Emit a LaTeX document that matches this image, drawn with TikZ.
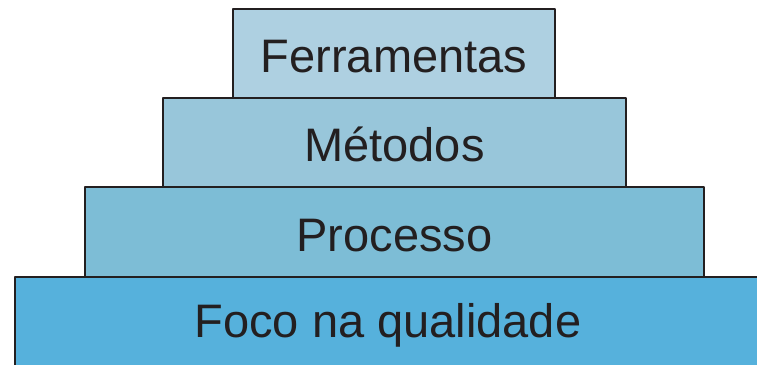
\documentclass[tikz,border=0pt]{standalone}
\usepackage{fontspec}
\setmainfont{Liberation Sans}
\definecolor{tierA}{RGB}{174,208,225}
\definecolor{tierB}{RGB}{152,198,218}
\definecolor{tierC}{RGB}{125,189,214}
\definecolor{tierD}{RGB}{86,177,220}
\definecolor{ink}{RGB}{35,31,32}
\begin{document}
\begin{tikzpicture}[x=1pt, y=-1pt, line join=round, font=\fontsize{47}{50}\selectfont,
	tier/.style={draw=ink, line width=1.3pt, inner sep=0pt, text=ink, text height=44pt, text depth=6pt}]
	\def \picw{757};
	\def \pich{364};
	\useasboundingbox (0,0) rectangle (\picw,\pich);
	\clip (0,0) rectangle (\picw,\pich);
	\node[tier, fill=tierD, minimum width=746pt, minimum height=90pt, text height=40pt, text depth=10pt] (foco) at (388,322) {Foco na qualidade};
	\node[tier, fill=tierC, minimum width=619pt, minimum height=90pt] (proc) at (394.5,232) {Processo};
	\node[tier, fill=tierB, minimum width=463pt, minimum height=89pt] (meto) at (394.5,142.5) {Métodos};
	\node[tier, fill=tierA, minimum width=322pt, minimum height=89pt] (ferr) at (394,53.5) {Ferramentas};
\end{tikzpicture}
\end{document}
